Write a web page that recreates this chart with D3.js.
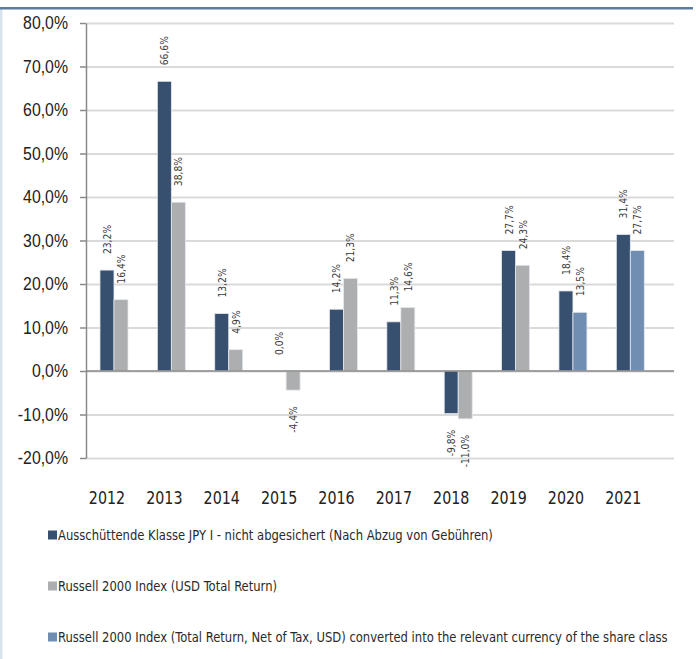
<!DOCTYPE html>
<html>
<head>
<meta charset="utf-8">
<script src="https://cdn.jsdelivr.net/npm/d3@7"></script>
<style>
  body { margin: 0; background: #fff; }
  svg { display: block; font-family: "Liberation Sans Narrow", "DejaVu Sans Condensed", "Liberation Sans", sans-serif; }
</style>
</head>
<body>
<div id="vis"></div>
<script>
const FRAME_WIDTH = 696;
const FRAME_HEIGHT = 659;

// data
const years = ['2012', '2013', '2014', '2015', '2016', '2017', '2018', '2019', '2020', '2021'];
const fundValues = [23.2, 66.6, 13.2, 0.0, 14.2, 11.3, -9.8, 27.7, 18.4, 31.4];
const russellUsdValues = [16.4, 38.8, 4.9, -4.4, 21.3, 14.6, -11.0, 24.3, null, null];
const russellConvValues = [null, null, null, null, null, null, null, null, 13.5, 27.7];
const yTicks = [-20, -10, 0, 10, 20, 30, 40, 50, 60, 70, 80];

const seriesNames = [
  'Ausschüttende Klasse JPY I - nicht abgesichert (Nach Abzug von Gebühren)',
  'Russell 2000 Index (USD Total Return)',
  'Russell 2000 Index (Total Return, Net of Tax, USD) converted into the relevant currency of the share class'
];
const COLORS = ['#37506f', '#adaeb0', '#6f8eb2'];
// slot inside a year cluster (Excel leaves slot 0 empty)
const SLOTS = [1, 2, 2];

const series = [fundValues, russellUsdValues, russellConvValues];

const PLOT = {left: 86, right: 674, top: 23, bottom: 458};
// the original uses a narrow font, so squeeze the condensed fallback a bit
const SQUEEZE = 0.88;

const svg = d3.select('#vis')
  .append('svg')
    .attr('width', FRAME_WIDTH)
    .attr('height', FRAME_HEIGHT);

// frame decoration
svg.append('rect')
  .attr('x', 0).attr('y', 9).attr('width', 2.5).attr('height', FRAME_HEIGHT - 9)
  .attr('fill', '#d9e3ee');
svg.append('rect')
  .attr('x', 0).attr('y', 7).attr('width', 693).attr('height', 2.5)
  .attr('fill', '#5d7d9e');

const fmt = (v) => v.toFixed(1).replace('.', ',') + '%';

const Y_SCALE = d3.scaleLinear()
  .domain([-20, 80])
  .range([PLOT.bottom, PLOT.top]);

const X_SCALE = d3.scaleBand()
  .domain(years)
  .range([78.3, 652])
  .paddingInner(0.268)
  .paddingOuter(0.134);

const SLOT_SCALE = d3.scaleBand()
  .domain([0, 1, 2])
  .range([0, X_SCALE.bandwidth()]);

// gridlines
svg.append('g')
  .attr('transform', 'translate(' + PLOT.left + ',0)')
  .call(d3.axisLeft(Y_SCALE).tickValues(yTicks).tickSize(-(PLOT.right - PLOT.left)).tickFormat(''))
  .call(g => g.select('.domain').remove())
  .call(g => g.selectAll('line').attr('stroke', '#dadada').attr('stroke-width', 2));

// y axis
svg.append('g')
  .attr('transform', 'translate(' + PLOT.left + ',0)')
  .call(d3.axisLeft(Y_SCALE).tickValues(yTicks).tickSize(6).tickSizeOuter(0).tickPadding(14.5).tickFormat(fmt))
  .call(g => g.select('.domain').attr('stroke', '#8a8a8a').attr('stroke-width', 1.5))
  .call(g => g.selectAll('line').attr('stroke', '#8a8a8a').attr('stroke-width', 1.5))
  .call(g => g.selectAll('text')
    .attr('font-size', '18px')
    .attr('fill', '#222')
    .attr('transform', 'scale(' + SQUEEZE + ',1)')
    .style('font-family', 'inherit'));

// bars
series.forEach((vals, si) => {
  const pts = years.map((y, i) => ({year: y, v: vals[i]})).filter(d => d.v !== null);
  svg.append('g')
    .selectAll('rect')
    .data(pts)
    .enter()
    .append('rect')
      .attr('x', d => X_SCALE(d.year) + SLOT_SCALE(SLOTS[si]))
      .attr('width', SLOT_SCALE.bandwidth())
      .attr('y', d => Y_SCALE(Math.max(0, d.v)))
      .attr('height', d => Math.abs(Y_SCALE(d.v) - Y_SCALE(0)))
      .attr('fill', COLORS[si])
      .attr('stroke', '#e4e8ed')
      .attr('stroke-width', 0.8);

  // value labels
  svg.append('g')
    .selectAll('text')
    .data(pts)
    .enter()
    .append('text')
      .attr('transform', d => {
        const cx = X_SCALE(d.year) + SLOT_SCALE(SLOTS[si]) + SLOT_SCALE.bandwidth() / 2;
        const yy = d.v >= 0 ? Y_SCALE(d.v) - 16 : Y_SCALE(d.v) + 16;
        return 'translate(' + (cx + 4) + ',' + yy + ') rotate(-90) scale(0.93,1)';
      })
      .attr('text-anchor', d => d.v >= 0 ? 'start' : 'end')
      .attr('font-size', '11px')
      .attr('fill', '#3a3a3a')
      .text(d => fmt(d.v));
});

// zero line
svg.append('line')
  .attr('x1', PLOT.left).attr('x2', PLOT.right)
  .attr('y1', Y_SCALE(0)).attr('y2', Y_SCALE(0))
  .attr('stroke', '#8a8a8a').attr('stroke-width', 1.5);

// year labels
svg.append('g')
  .selectAll('text')
  .data(years)
  .enter()
  .append('text')
    .attr('transform', d => 'translate(' + (X_SCALE(d) + X_SCALE.bandwidth() / 2) + ',504) scale(' + SQUEEZE + ',1)')
    .attr('text-anchor', 'middle')
    .attr('font-size', '18px')
    .attr('fill', '#222')
    .text(d => d);

// legend
const legend = svg.append('g')
  .selectAll('g')
  .data(seriesNames)
  .enter()
  .append('g')
    .attr('transform', (d, i) => 'translate(48,' + (535 + i * 51) + ')');

legend.append('rect')
  .attr('x', 0).attr('y', -4.5)
  .attr('width', 9).attr('height', 9)
  .attr('fill', (d, i) => COLORS[i]);

legend.append('text')
  .attr('transform', 'translate(10,0) scale(0.92,1)')
  .attr('dy', '0.35em')
  .attr('font-size', '14px')
  .attr('fill', '#2a2a2a')
  .text(d => d);
</script>
</body>
</html>
